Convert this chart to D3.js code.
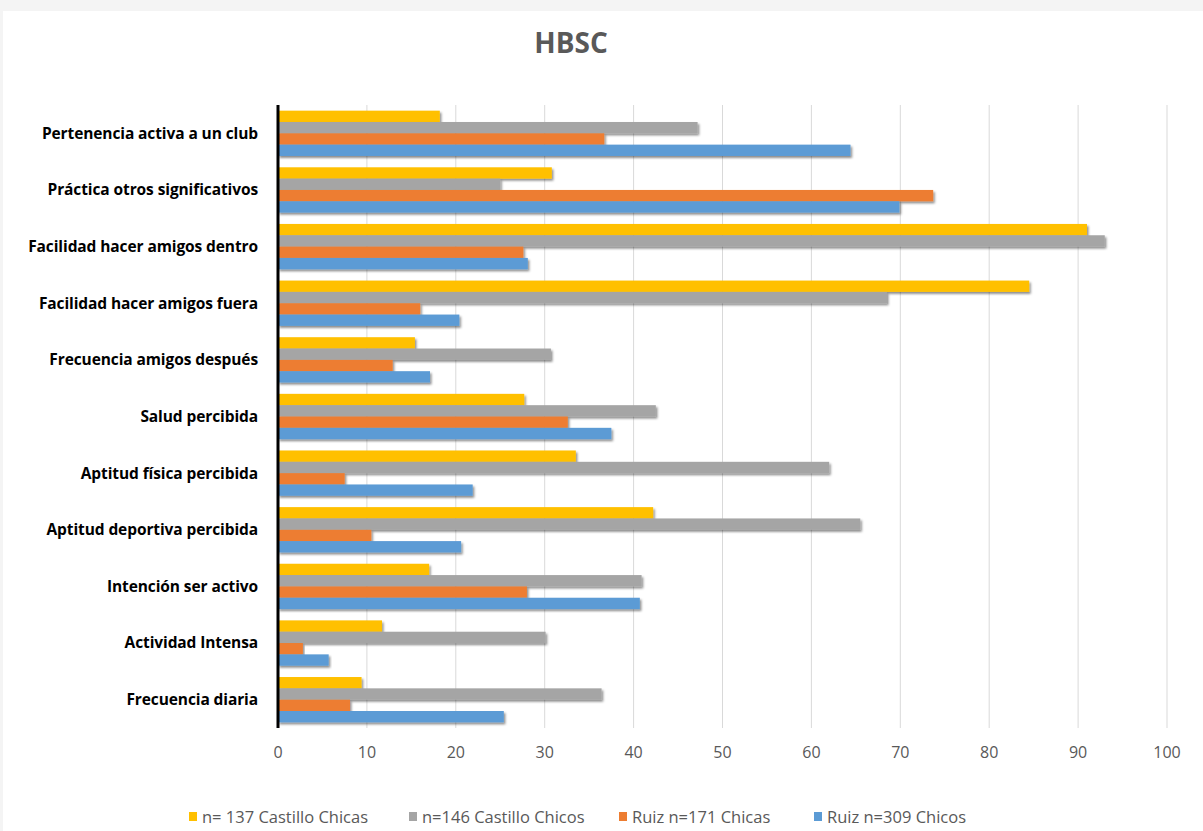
<!DOCTYPE html>
<html>
<head>
<meta charset="utf-8">
<script src="https://cdn.jsdelivr.net/npm/d3@7"></script>
<style>
  body { margin: 0; background: #f4f4f4; }
  svg { display: block; }
</style>
</head>
<body>
<svg id="chart" width="1203" height="831"></svg>
<script>
// categories top to bottom
var categories = [
  "Pertenencia activa a un club",
  "Práctica otros significativos",
  "Facilidad hacer amigos dentro",
  "Facilidad hacer amigos fuera",
  "Frecuencia amigos después",
  "Salud percibida",
  "Aptitud física percibida",
  "Aptitud deportiva percibida",
  "Intención ser activo",
  "Actividad Intensa",
  "Frecuencia diaria"
];
var seriesNames = ["n= 137 Castillo Chicas", "n=146 Castillo Chicos", "Ruiz n=171 Chicas", "Ruiz n=309 Chicos"];
var castilloChicas = [18.2, 30.8, 91.0, 84.5, 15.4, 27.7, 33.5, 42.2, 17.0, 11.7, 9.4];
var castilloChicos = [47.2, 25.0, 93.0, 68.5, 30.7, 42.5, 62.0, 65.5, 40.9, 30.1, 36.4];
var ruizChicas     = [36.7, 73.7, 27.6, 16.0, 12.9, 32.6, 7.5, 10.5, 28.0, 2.8, 8.1];
var ruizChicos     = [64.4, 69.9, 28.1, 20.4, 17.1, 37.5, 21.9, 20.6, 40.7, 5.7, 25.4];
var xTicks = [0, 10, 20, 30, 40, 50, 60, 70, 80, 90, 100];
var colors = ["#ffc000", "#a5a5a5", "#ed7d31", "#5b9bd5"];

var series = [castilloChicas, castilloChicos, ruizChicas, ruizChicos];

var svg = d3.select("#chart");
var margin = {left: 278, top: 105, right: 36, bottom: 103};
var width = 1203 - margin.left - margin.right;
var height = 831 - margin.top - margin.bottom;

// white panel
svg.append("rect").attr("x", 3).attr("y", 11).attr("width", 1200).attr("height", 820).attr("fill", "#fff");

var defs = svg.append("defs");
var f = defs.append("filter").attr("id", "shadow").attr("x", "-5%").attr("y", "-30%").attr("width", "110%").attr("height", "180%");
f.append("feDropShadow").attr("dx", 1.5).attr("dy", 2).attr("stdDeviation", 1.3)
  .attr("flood-color", "#000").attr("flood-opacity", 0.45);

var g = svg.append("g").attr("transform", "translate(" + margin.left + "," + margin.top + ")");

var x = d3.scaleLinear().domain([0, 100]).range([0, width]);
var y0 = d3.scaleBand().domain(categories).range([0, height]).paddingInner(0.2).paddingOuter(0.1);
var y1 = d3.scaleBand().domain(d3.range(4)).range([0, y0.bandwidth()]);

// gridlines
g.selectAll(".grid").data(xTicks.slice(1)).enter().append("line")
  .attr("x1", function(d){ return x(d); }).attr("x2", function(d){ return x(d); })
  .attr("y1", 0).attr("y2", height)
  .attr("stroke", "#d9d9d9").attr("stroke-width", 1);

// bars
var groups = g.selectAll(".cat").data(categories).enter().append("g")
  .attr("transform", function(d){ return "translate(0," + y0(d) + ")"; });
groups.selectAll("rect").data(function(d, i){
    return series.map(function(s, k){ return {k: k, v: s[i]}; });
  }).enter().append("rect")
  .attr("x", 0)
  .attr("y", function(d){ return y1(d.k); })
  .attr("width", function(d){ return x(d.v); })
  .attr("height", y1.bandwidth())
  .attr("fill", function(d){ return colors[d.k]; })
  .attr("filter", "url(#shadow)");

// category labels
g.selectAll(".lab").data(categories).enter().append("text")
  .attr("x", -20)
  .attr("y", function(d){ return y0(d) + y0.bandwidth() / 2; })
  .attr("dy", "0.35em")
  .attr("text-anchor", "end")
  .attr("font-family", "Open Sans")
  .attr("font-weight", 700)
  .attr("font-size", 15.5)
  .attr("letter-spacing", -0.1)
  .attr("fill", "#000")
  .text(function(d){ return d; });

// left axis line
g.append("line").attr("x1", 0).attr("x2", 0).attr("y1", 0).attr("y2", height)
  .attr("stroke", "#000").attr("stroke-width", 3);

// x tick labels
g.selectAll(".tick").data(xTicks).enter().append("text")
  .attr("x", function(d){ return x(d); })
  .attr("y", height + 30)
  .attr("text-anchor", "middle")
  .attr("font-family", "Open Sans")
  .attr("font-size", 16)
  .attr("fill", "#595959")
  .text(function(d){ return d; });

// title
svg.append("text").attr("x", 571).attr("y", 53).attr("text-anchor", "middle")
  .attr("font-family", "Open Sans").attr("font-weight", 700).attr("font-size", 28)
  .attr("fill", "#595959").text("HBSC");

// legend
var legX = [189, 409, 619, 814];
var leg = svg.selectAll(".leg").data(seriesNames).enter().append("g")
  .attr("transform", function(d, i){ return "translate(" + legX[i] + ",817)"; });
leg.append("rect").attr("x", 0).attr("y", -5).attr("width", 8).attr("height", 9)
  .attr("fill", function(d, i){ return colors[i]; });
leg.append("text").attr("x", 13).attr("y", 0).attr("dy", "0.35em")
  .attr("font-family", "Open Sans").attr("font-size", 16.5).attr("fill", "#595959")
  .text(function(d){ return d; });
</script>
</body>
</html>
